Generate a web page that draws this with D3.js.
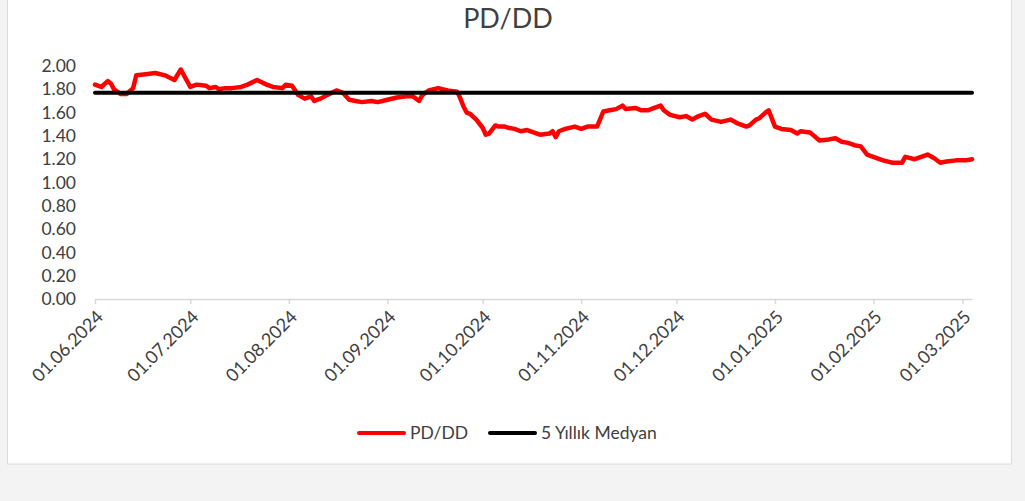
<!DOCTYPE html>
<html>
<head>
<meta charset="utf-8">
<script src="https://cdn.jsdelivr.net/npm/d3@7"></script>
<style>
  html, body { margin: 0; padding: 0; background: #f3f3f3; }
  svg { display: block; font-family: Lato, "Open Sans", sans-serif; }
</style>
</head>
<body>
<svg id="chart" width="1025" height="501"></svg>
<script>
// PD/DD series (date, value)
const pdDates = [
  '01.06.2024', '03.06.2024', '05.06.2024', '06.06.2024', '07.06.2024', '09.06.2024', '11.06.2024',
  '13.06.2024', '14.06.2024', '17.06.2024', '20.06.2024', '23.06.2024', '26.06.2024', '28.06.2024',
  '29.06.2024', '01.07.2024', '03.07.2024', '06.07.2024', '07.07.2024', '09.07.2024', '10.07.2024',
  '12.07.2024', '14.07.2024', '17.07.2024', '19.07.2024', '22.07.2024', '25.07.2024', '27.07.2024',
  '30.07.2024', '31.07.2024', '02.08.2024', '04.08.2024', '06.08.2024', '08.08.2024', '09.08.2024',
  '11.08.2024', '13.08.2024', '16.08.2024', '18.08.2024', '20.08.2024', '22.08.2024', '24.08.2024',
  '27.08.2024', '29.08.2024', '01.09.2024', '04.09.2024', '07.09.2024', '09.09.2024', '11.09.2024',
  '12.09.2024', '14.09.2024', '17.09.2024', '20.09.2024', '23.09.2024', '24.09.2024', '25.09.2024',
  '26.09.2024', '27.09.2024', '29.09.2024', '01.10.2024', '02.10.2024', '03.10.2024', '05.10.2024',
  '06.10.2024', '08.10.2024', '09.10.2024', '11.10.2024', '13.10.2024', '15.10.2024', '17.10.2024',
  '19.10.2024', '22.10.2024', '23.10.2024', '24.10.2024', '25.10.2024', '27.10.2024', '30.10.2024',
  '01.11.2024', '03.11.2024', '06.11.2024', '08.11.2024', '10.11.2024', '12.11.2024', '14.11.2024',
  '15.11.2024', '18.11.2024', '20.11.2024', '22.11.2024', '24.11.2024', '26.11.2024', '27.11.2024',
  '29.11.2024', '02.12.2024', '04.12.2024', '06.12.2024', '08.12.2024', '10.12.2024', '12.12.2024',
  '15.12.2024', '18.12.2024', '20.12.2024', '23.12.2024', '24.12.2024', '26.12.2024', '27.12.2024',
  '29.12.2024', '30.12.2024', '01.01.2025', '03.01.2025', '06.01.2025', '08.01.2025', '09.01.2025',
  '12.01.2025', '15.01.2025', '18.01.2025', '20.01.2025', '22.01.2025', '24.01.2025', '26.01.2025',
  '28.01.2025', '30.01.2025', '02.02.2025', '04.02.2025', '07.02.2025', '10.02.2025', '11.02.2025',
  '14.02.2025', '16.02.2025', '18.02.2025', '20.02.2025', '22.02.2025', '24.02.2025', '27.02.2025',
  '02.03.2025', '04.03.2025'
];
const pdValues = [
  1.84, 1.82, 1.87, 1.85, 1.80, 1.76, 1.76,
  1.81, 1.92, 1.93, 1.94, 1.92, 1.88, 1.97,
  1.92, 1.82, 1.84, 1.83, 1.81, 1.82, 1.80,
  1.81, 1.81, 1.82, 1.84, 1.88, 1.84, 1.82,
  1.81, 1.84, 1.83, 1.75, 1.72, 1.74, 1.70,
  1.72, 1.75, 1.79, 1.77, 1.71, 1.70, 1.69,
  1.70, 1.69, 1.71, 1.73, 1.74, 1.74, 1.70,
  1.75, 1.79, 1.81, 1.79, 1.78, 1.72, 1.65,
  1.60, 1.59, 1.54, 1.47, 1.41, 1.42, 1.49,
  1.48, 1.48, 1.47, 1.46, 1.44, 1.45, 1.43,
  1.41, 1.42, 1.44, 1.39, 1.44, 1.46, 1.48,
  1.46, 1.48, 1.48, 1.61, 1.62, 1.63, 1.66,
  1.63, 1.64, 1.62, 1.62, 1.64, 1.66, 1.62,
  1.58, 1.56, 1.57, 1.54, 1.57, 1.59, 1.54,
  1.52, 1.54, 1.51, 1.48, 1.49, 1.54, 1.55,
  1.60, 1.62, 1.48, 1.46, 1.45, 1.42, 1.44,
  1.43, 1.36, 1.37, 1.38, 1.35, 1.34, 1.32,
  1.31, 1.24, 1.21, 1.19, 1.17, 1.17, 1.22,
  1.20, 1.22, 1.24, 1.21, 1.17, 1.18, 1.19,
  1.19, 1.20
];
const medianValue = 1.77;
const monthTicks = [
  '01.06.2024', '01.07.2024', '01.08.2024', '01.09.2024', '01.10.2024',
  '01.11.2024', '01.12.2024', '01.01.2025', '01.02.2025', '01.03.2025'
];
const yTicks = [0, 0.2, 0.4, 0.6, 0.8, 1.0, 1.2, 1.4, 1.6, 1.8, 2.0];
const seriesNames = ['PD/DD', '5 Yıllık Medyan'];
const seriesColors = ['#ff0000', '#000000'];

const parse = d3.timeParse('%d.%m.%Y');
const fmt = d3.timeFormat('%d.%m.%Y');
const pd = pdDates.map((d, i) => ({ date: parse(d), value: pdValues[i] }));

const svg = d3.select('#chart');

// white card
svg.append('rect')
  .attr('x', 7.5).attr('y', -2).attr('width', 1004).attr('height', 466)
  .attr('fill', '#fff').attr('stroke', '#dcdcdc');

const x = d3.scaleTime()
  .domain([parse('01.06.2024'), parse('04.03.2025')])
  .range([95, 972]);
const y = d3.scaleLinear().domain([0, 2]).range([299, 66]);

svg.append('text')
  .attr('x', 508).attr('y', 28)
  .attr('text-anchor', 'middle')
  .attr('font-size', 27).attr('fill', '#404040')
  .text('PD/DD');

// y axis labels only
const yAxis = svg.append('g')
  .attr('transform', 'translate(95,0)')
  .call(d3.axisLeft(y).tickValues(yTicks).tickFormat(d3.format('.2f')).tickSize(0).tickPadding(19));
yAxis.select('.domain').remove();
yAxis.selectAll('text').attr('font-size', 17.5).attr('fill', '#404040').attr('font-family', 'Lato, sans-serif');

// x axis
const xAxis = svg.append('g')
  .attr('transform', 'translate(0,299)')
  .call(d3.axisBottom(x).tickValues(monthTicks.map(parse)).tickFormat(fmt).tickSize(5).tickSizeOuter(0));
xAxis.select('.domain').attr('stroke', '#d9d9d9').attr('stroke-width', 1.5);
xAxis.selectAll('.tick line').attr('stroke', '#d9d9d9').attr('stroke-width', 1.5);
xAxis.selectAll('text')
  .attr('font-size', 18).attr('fill', '#404040').attr('font-family', 'Lato, sans-serif')
  .attr('text-anchor', 'end')
  .attr('dy', null).attr('y', 0)
  .attr('transform', 'translate(9,19) rotate(-45)');

// PD/DD line
svg.append('path')
  .datum(pd)
  .attr('fill', 'none')
  .attr('stroke', seriesColors[0])
  .attr('stroke-width', 4.5)
  .attr('stroke-linejoin', 'round')
  .attr('stroke-linecap', 'round')
  .attr('d', d3.line().x((d) => x(d.date)).y((d) => y(d.value)));

// median line
svg.append('line')
  .attr('x1', x(pd[0].date)).attr('x2', x(pd[pd.length - 1].date))
  .attr('y1', y(medianValue)).attr('y2', y(medianValue))
  .attr('stroke', seriesColors[1]).attr('stroke-width', 4).attr('stroke-linecap', 'round');

// legend
const legendX = [359, 490];
const legend = svg.append('g');
seriesNames.forEach((name, i) => {
  legend.append('line')
    .attr('x1', legendX[i]).attr('x2', legendX[i] + 45)
    .attr('y1', 433).attr('y2', 433)
    .attr('stroke', seriesColors[i]).attr('stroke-width', 4).attr('stroke-linecap', 'round');
  legend.append('text')
    .attr('x', legendX[i] + 51).attr('y', 439)
    .attr('font-size', 17.5).attr('fill', '#404040')
    .text(name);
});
</script>
</body>
</html>
